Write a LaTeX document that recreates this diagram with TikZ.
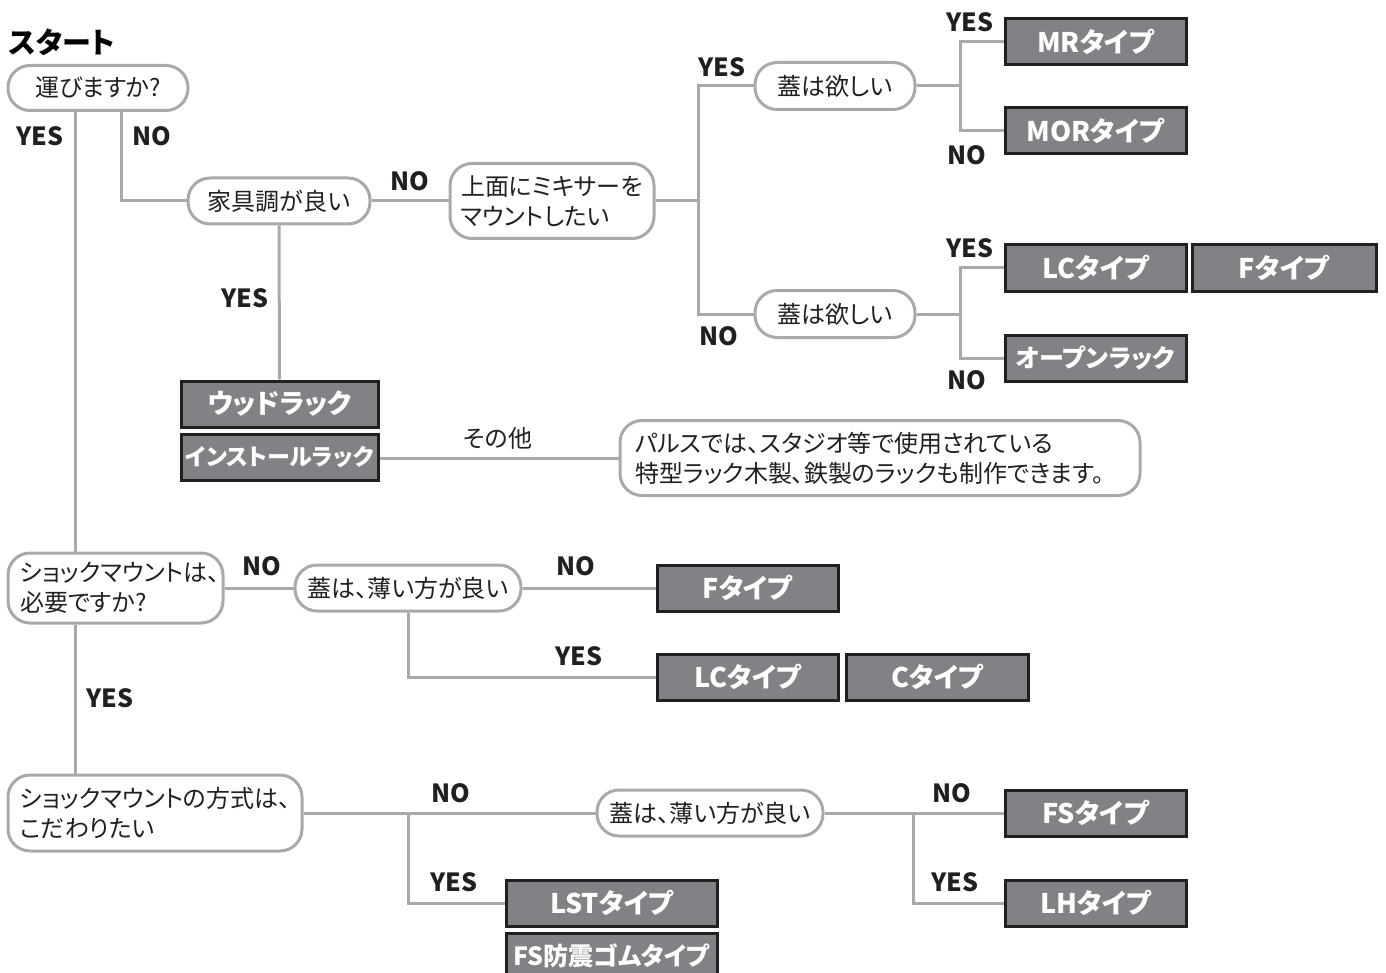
\documentclass[tikz,border=0pt]{standalone}
\usepackage{fontspec}
\setmainfont{Noto Sans CJK JP}[RawFeature=+palt]
\definecolor{linegray}{HTML}{A7A9AC}
\definecolor{boxgray}{HTML}{808285}
\definecolor{boxedge}{HTML}{231F20}

\begin{document}
\begin{tikzpicture}
        [x=.5pt,y=-.5pt,
        ask/.style={draw=linegray,line width=1.5pt,rounded corners=11pt,fill=white,inner sep=0pt,
          align=left,font=\fontsize{12}{15}\selectfont,text=boxedge},
        pick/.style={draw=boxedge,fill=boxgray,line width=1.5pt,text=white,inner sep=0pt,
          minimum width=90.5pt,minimum height=23pt,font=\bfseries\fontsize{13.5}{15}\selectfont},
        ans/.style={font=\bfseries\fontsize{12.5}{14}\selectfont,text=boxedge},
        link/.style={draw=linegray,line width=1.5pt}]
        \useasboundingbox (0,0) rectangle (1386,973);

        \node[font=\bfseries\fontsize{14.5}{16}\selectfont] (start) at (62,42) {スタート};

        % questions
        \node[ask,minimum width=90pt,minimum height=22.5pt] (q1) at (98,88) {運びますか?};
        \node[ask,minimum width=91pt,minimum height=23pt] (kagu) at (279,201) {家具調が良い};
        \node[ask,minimum width=102pt,minimum height=37.5pt] (mixer) at (552,201) {上面にミキサーを\\マウントしたい};
        \node[ask,minimum width=80pt,minimum height=23.5pt] (lidA) at (835,86) {蓋は欲しい};
        \node[ask,minimum width=80pt,minimum height=23.5pt] (lidB) at (835,314) {蓋は欲しい};
        \node[ask,inner xsep=7.5pt,text width=245pt,minimum height=37.5pt] (note) at (880,458)
          {パルスでは、スタジオ等で使用されている\\特型ラック木製、鉄製のラックも制作できます。};
        \node[ask,inner xsep=6pt,text width=95.5pt,minimum height=35pt] (shockA) at (115.5,588)
          {ショックマウントは、\\必要ですか?};
        \node[ask,minimum width=113pt,minimum height=23pt] (thinA) at (408,588) {蓋は、薄い方が良い};
        \node[ask,inner xsep=6pt,text width=135pt,minimum height=38pt] (shockB) at (155,813)
          {ショックマウントの方式は、\\こだわりたい};
        \node[ask,minimum width=113pt,minimum height=23pt] (thinB) at (710,813) {蓋は、薄い方が良い};

        % answers
        \node[pick] (mr) at (1095.5,42) {MRタイプ};
        \node[pick] (mor) at (1095.5,131) {MORタイプ};
        \node[pick] (lcA) at (1095.5,268) {LCタイプ};
        \node[pick,minimum width=92pt] (fA) at (1284,268) {Fタイプ};
        \node[pick,font=\bfseries\fontsize{12.5}{15}\selectfont] (open) at (1095.5,358) {オープンラック};
        \node[pick,minimum width=98.5pt] (wood) at (279.5,404) {ウッドラック};
        \node[pick,minimum width=98.5pt,font=\bfseries\fontsize{11.5}{15}\selectfont] (install) at (279.5,457) {インストールラック};
        \node[pick] (fB) at (747.5,588) {Fタイプ};
        \node[pick] (lcB) at (747.5,677) {LCタイプ};
        \node[pick,minimum width=91pt] (c) at (937,677) {Cタイプ};
        \node[pick] (fs) at (1095.5,813) {FSタイプ};
        \node[pick] (lh) at (1095.5,903) {LHタイプ};
        \node[pick,minimum width=105.5pt] (lst) at (611.5,903) {LSTタイプ};
        \node[pick,minimum width=105.5pt,font=\bfseries\fontsize{12.5}{15}\selectfont] (fsg) at (611.5,956) {FS防震ゴムタイプ};

        % branch points
        \coordinate (trunk) at (75,0);
        \coordinate (noleg) at (121,0);
        \coordinate (splitA) at (698,201);
        \coordinate (splitB) at (960,86);
        \coordinate (splitC) at (960,314);
        \coordinate (splitD) at (408,813);
        \coordinate (splitE) at (913,813);

        \draw[link] (q1.south -| trunk) -- (shockA.north -| trunk);
        \draw[link] (shockA.south -| trunk) -- (shockB.north -| trunk);
        \draw[link] (q1.south -| noleg) |- (kagu.west);
        \draw[link] (kagu.east) -- (mixer.west);
        \draw[link] (kagu.south) -- (wood.north);
        \draw[link] (mixer.east) -- (splitA);
        \draw[link] (lidA.west) -| (splitA) |- (lidB.west);
        \draw[link] (lidA.east) -- (splitB);
        \draw[link] (mr.west) -| (splitB) |- (mor.west);
        \draw[link] (lidB.east) -- (splitC);
        \draw[link] (lcA.west) -| (splitC) |- (open.west);
        \draw[link] (install.east |- note.west) -- (note.west);
        \draw[link] (shockA.east) -- (thinA.west);
        \draw[link] (thinA.east) -- (fB.west);
        \draw[link] (thinA.south) |- (lcB.west);
        \draw[link] (shockB.east) -- (thinB.west);
        \draw[link] (splitD) |- (lst.west);
        \draw[link] (thinB.east) -- (fs.west);
        \draw[link] (splitE) |- (lh.west);

        % labels
        \node[ans] (y1) at (40,136) {YES};
        \node[ans] (n1) at (152,136) {NO};
        \node[ans] (n2) at (410,181) {NO};
        \node[ans] (y2) at (245,298) {YES};
        \node[ans] (y3) at (722,67) {YES};
        \node[ans] (n3) at (719,336) {NO};
        \node[ans] (y4) at (970,22) {YES};
        \node[ans] (n4) at (967,155) {NO};
        \node[ans] (y5) at (970,248) {YES};
        \node[ans] (n5) at (967,380) {NO};
        \node[font=\fontsize{12}{14}\selectfont,text=boxedge] (other) at (498,438) {その他};
        \node[ans] (n6) at (262,566) {NO};
        \node[ans] (n7) at (576,566) {NO};
        \node[ans] (y6) at (579,656) {YES};
        \node[ans] (y7) at (110,698) {YES};
        \node[ans] (n8) at (451,793) {NO};
        \node[ans] (y8) at (454,882) {YES};
        \node[ans] (n9) at (952,793) {NO};
        \node[ans] (y9) at (955,882) {YES};
    \end{tikzpicture}
\end{document}
